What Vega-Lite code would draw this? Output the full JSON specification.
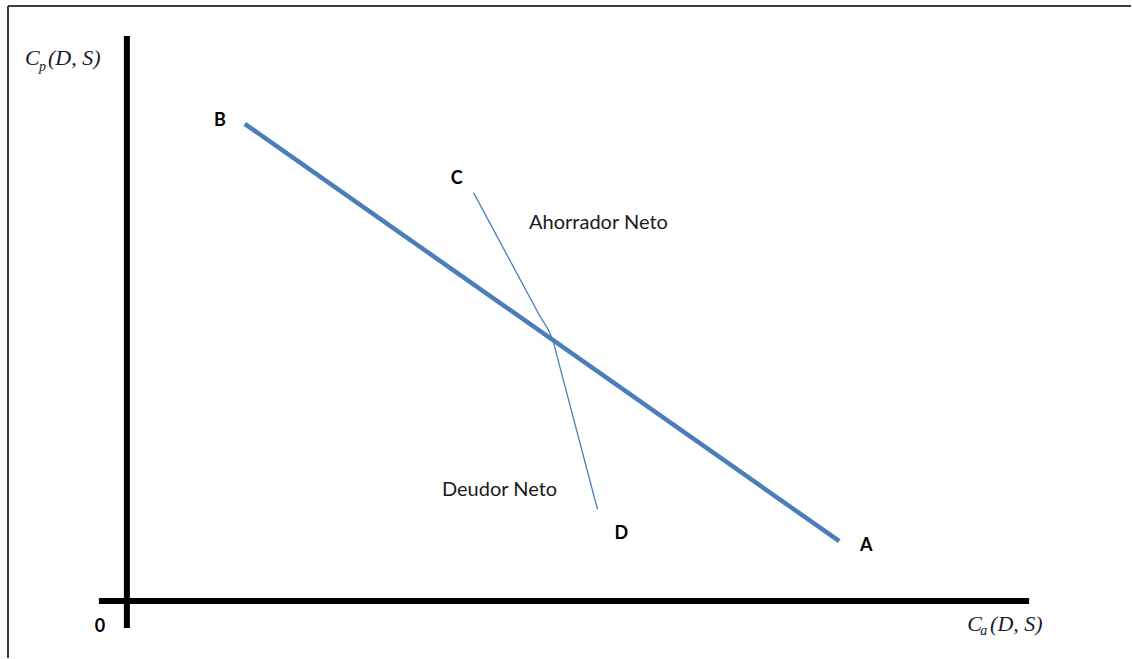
{
  "$schema": "https://vega.github.io/schema/vega-lite/v6.json",
  "autosize": {"type": "fit", "contains": "padding"},
  "width": 1132,
  "height": 659,
  "padding": 0,
  "background": "white",
  "config": {"view": {"stroke": null}},
  "datasets": {
    "frame": [
      {"x": -11.9, "y": 59.6, "x2": -11.9, "y2": -5.7},
      {"x": -11.9, "y": 59.6, "x2": 100.5, "y2": 59.6}
    ],
    "axes": [
      {"x": 0, "y": 56.6, "x2": 0, "y2": -2.7},
      {"x": -2.8, "y": 0, "x2": 90.3, "y2": 0}
    ],
    "budget": [
      {"x": 11.8, "y": 47.8, "x2": 71.3, "y2": 6.0}
    ],
    "thin": [
      {"x": 34.7, "y": 40.9},
      {"x": 41.3, "y": 28.6},
      {"x": 42.6, "y": 26.2},
      {"x": 43.35, "y": 23.4},
      {"x": 47.1, "y": 9.2}
    ],
    "letters": [
      {"x": 9.3, "y": 48.1, "t": "B"},
      {"x": 33.0, "y": 42.3, "t": "C"},
      {"x": 49.5, "y": 6.7, "t": "D"},
      {"x": 74.0, "y": 5.5, "t": "A"},
      {"x": -2.7, "y": -2.6, "t": "0"}
    ],
    "notes": [
      {"x": 47.2, "y": 37.9, "t": "Ahorrador Neto"},
      {"x": 37.3, "y": 11.1, "t": "Deudor Neto"}
    ],
    "serif": [
      {"x": -10.2, "y": 54.4, "t": "C"},
      {"x": -7.9, "y": 54.4, "t": "(D, S)"},
      {"x": 84.1, "y": -2.3, "t": "C"},
      {"x": 86.4, "y": -2.3, "t": "(D, S)"}
    ],
    "subs": [
      {"x": -8.8, "y": 53.5, "t": "p"},
      {"x": 85.4, "y": -3.0, "t": "a"}
    ]
  },
  "encoding": {
    "x": {"field": "x", "type": "quantitative", "scale": {"domain": [-12.7, 100.5], "nice": false, "zero": false}, "axis": null},
    "y": {"field": "y", "type": "quantitative", "scale": {"domain": [-5.7, 60.2], "nice": false, "zero": false}, "axis": null}
  },
  "layer": [
    {
      "data": {"name": "frame"},
      "mark": {"type": "rule", "color": "#3c3c3c", "strokeWidth": 2},
      "encoding": {"x2": {"field": "x2"}, "y2": {"field": "y2"}}
    },
    {
      "data": {"name": "axes"},
      "mark": {"type": "rule", "color": "#000000", "strokeWidth": 6},
      "encoding": {"x2": {"field": "x2"}, "y2": {"field": "y2"}}
    },
    {
      "data": {"name": "budget"},
      "mark": {"type": "rule", "color": "#4a7ebb", "strokeWidth": 4.5},
      "encoding": {"x2": {"field": "x2"}, "y2": {"field": "y2"}}
    },
    {
      "data": {"name": "thin"},
      "mark": {"type": "line", "color": "#4a7ebb", "strokeWidth": 1.3, "interpolate": "monotone"},
      "encoding": {}
    },
    {
      "data": {"name": "letters"},
      "mark": {"type": "text", "font": "Lato", "fontSize": 18, "fontWeight": "bold", "color": "#000000", "align": "center", "baseline": "middle"},
      "encoding": {"text": {"field": "t"}}
    },
    {
      "data": {"name": "notes"},
      "mark": {"type": "text", "font": "Lato", "fontSize": 20, "color": "#1a1a1a", "align": "center", "baseline": "middle"},
      "encoding": {"text": {"field": "t"}}
    },
    {
      "data": {"name": "serif"},
      "mark": {"type": "text", "font": "Liberation Serif", "fontSize": 22, "fontStyle": "italic", "color": "#1a1a2e", "align": "left", "baseline": "middle"},
      "encoding": {"text": {"field": "t"}}
    },
    {
      "data": {"name": "subs"},
      "mark": {"type": "text", "font": "Liberation Serif", "fontSize": 14, "fontStyle": "italic", "color": "#1a1a2e", "align": "left", "baseline": "middle"},
      "encoding": {"text": {"field": "t"}}
    }
  ]
}
